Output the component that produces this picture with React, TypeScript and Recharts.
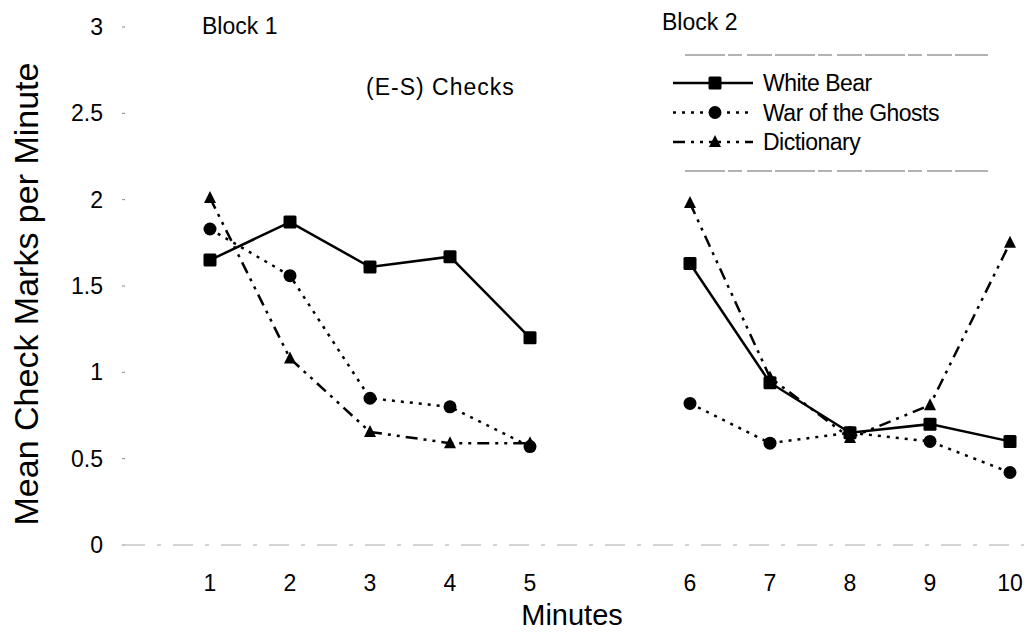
import { LineChart, Line, XAxis, YAxis } from 'recharts';

// minute labels; the blank entry is the pause between the two blocks
const minutes = ['1', '2', '3', '4', '5', '', '6', '7', '8', '9', '10'];
const whiteBear = [1.65, 1.87, 1.61, 1.67, 1.2, null, 1.63, 0.94, 0.65, 0.7, 0.6];
const warOfTheGhosts = [1.83, 1.56, 0.85, 0.8, 0.57, null, 0.82, 0.59, 0.65, 0.6, 0.42];
const dictionary = [2.01, 1.08, 0.655, 0.59, 0.59, null, 1.98, 0.97, 0.62, 0.81, 1.75];
const yTicks = [0, 0.5, 1, 1.5, 2, 2.5, 3];

const data = minutes.map((m, i) => ({
  minute: m,
  whiteBear: whiteBear[i],
  warOfTheGhosts: warOfTheGhosts[i],
  dictionary: dictionary[i],
}));

const FONT = '"Liberation Sans", Arial, sans-serif';

type Shape = 'square' | 'circle' | 'triangle';

const SERIES: { key: string; name: string; dash?: string; shape: Shape }[] = [
  { key: 'whiteBear', name: 'White Bear', shape: 'square' },
  { key: 'warOfTheGhosts', name: 'War of the Ghosts', dash: '3 6', shape: 'circle' },
  { key: 'dictionary', name: 'Dictionary', dash: '12 6 3 6 3 6', shape: 'triangle' },
];

function Marker({ shape, cx, cy }: { shape: Shape; cx: number; cy: number }) {
  if (shape === 'square') return <rect x={cx - 6.5} y={cy - 6.5} width={13} height={13} rx={1.5} fill="#000" />;
  if (shape === 'circle') return <circle cx={cx} cy={cy} r={6.5} fill="#000" />;
  return <polygon points={`${cx},${cy - 7} ${cx + 6},${cy + 5} ${cx - 6},${cy + 5}`} fill="#000" />;
}

const makeDot = (shape: Shape) => (props: any) => {
  const { cx, cy, index, value } = props;
  if (value == null || cx == null || cy == null) return <g key={`e-${index}`} />;
  return (
    <g key={`${shape}-${index}`}>
      <Marker shape={shape} cx={cx} cy={cy} />
    </g>
  );
};

function ChartLegend() {
  return (
    <div style={{ position: 'absolute', left: 668, top: 50, width: 330, height: 130 }}>
      <svg width={330} height={130} style={{ position: 'absolute', left: 0, top: 0 }}>
        <line x1={17} x2={320} y1={5} y2={5} stroke="#666" strokeDasharray="40 3 14 5 25 3" />
        <line x1={17} x2={320} y1={121} y2={121} stroke="#666" strokeDasharray="40 3 14 5 25 3" />
        {SERIES.map((s, i) => {
          const y = 33 + i * 29.5;
          return (
            <g key={s.key}>
              <line x1={5} x2={85} y1={y} y2={y} stroke="#000" strokeWidth={2.5} strokeDasharray={s.dash} />
              <Marker shape={s.shape} cx={47} cy={y} />
            </g>
          );
        })}
      </svg>
      {SERIES.map((s, i) => (
        <div
          key={s.key}
          style={{
            position: 'absolute',
            left: 95,
            top: 33 + i * 29.5 - 14,
            fontSize: 23,
            lineHeight: '28px',
            fontFamily: FONT,
            letterSpacing: -0.5,
            color: '#000',
            whiteSpace: 'nowrap',
          }}
        >
          {s.name}
        </div>
      ))}
    </div>
  );
}

const note = (text: string, left: number, top: number, size: number, spacing = 0) => (
  <div
    style={{
      position: 'absolute',
      left,
      top,
      fontSize: size,
      fontFamily: FONT,
      letterSpacing: spacing,
      whiteSpace: 'nowrap',
      color: '#000',
    }}
  >
    {text}
  </div>
);

export default function App() {
  return (
    <div style={{ position: 'absolute', left: 0, top: 0, width: 1034, height: 638, background: '#fff' }}>
      <LineChart width={1034} height={638} data={data} margin={{ top: 27, right: 10, left: 0, bottom: 0 }}>
        <XAxis
          dataKey="minute"
          scale="point"
          padding={{ left: 85, right: 14 }}
          height={93}
          tickSize={0}
          tickMargin={30}
          axisLine={{ stroke: '#aaa', strokeDasharray: '20 12 4 12' }}
          tick={{ fill: '#000', fontSize: 23, fontFamily: FONT }}
        />
        <YAxis
          width={125}
          domain={[0, 3]}
          ticks={yTicks}
          axisLine={false}
          tickSize={3}
          tickLine={{ stroke: '#888' }}
          tickMargin={19}
          tick={{ fill: '#000', fontSize: 23, fontFamily: FONT }}
        />
        {SERIES.map((s) => (
          <Line
            key={s.key}
            dataKey={s.key}
            name={s.name}
            stroke="#000"
            strokeWidth={2.5}
            strokeDasharray={s.dash}
            dot={makeDot(s.shape)}
            activeDot={false}
            isAnimationActive={false}
          />
        ))}
      </LineChart>
      {note('Block 1', 202, 13, 23)}
      {note('Block 2', 662, 9, 23)}
      {note('(E-S) Checks', 366, 74, 23, 1)}
      <ChartLegend />
      <div
        style={{
          position: 'absolute',
          left: 572,
          top: 615,
          transform: 'translate(-50%, -50%)',
          fontSize: 29,
          fontFamily: FONT,
          whiteSpace: 'nowrap',
        }}
      >
        Minutes
      </div>
      <div
        style={{
          position: 'absolute',
          left: 26,
          top: 294,
          transform: 'translate(-50%, -50%) rotate(-90deg)',
          fontSize: 34,
          fontFamily: FONT,
          whiteSpace: 'nowrap',
        }}
      >
        Mean Check Marks per Minute
      </div>
    </div>
  );
}
